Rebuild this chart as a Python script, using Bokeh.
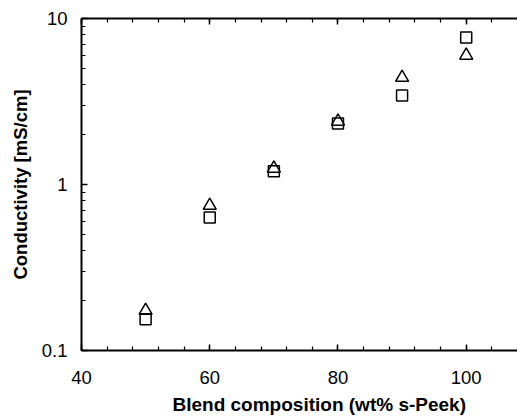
from bokeh.plotting import figure
from bokeh.models import LinearAxis, FixedTicker, SingleIntervalTicker, Range1d, Title
from bokeh.embed import file_html
from bokeh.resources import INLINE

# Data
composition = [50, 60, 70, 80, 90, 100]
cond_square = [0.154, 0.633, 1.20, 2.33, 3.44, 7.68]
cond_triangle = [0.174, 0.747, 1.25, 2.40, 4.41, 5.99]

y_major = [0.1, 1, 10]
y_minor = [0.2, 0.3, 0.4, 0.5, 0.6, 0.7, 0.8, 0.9, 2, 3, 4, 5, 6, 7, 8, 9]

x_title = "Blend composition (wt% s-Peek)"
y_title = "Conductivity [mS/cm]"

FONT = "Liberation Sans"

p = figure(width=517, height=419, output_backend="svg", toolbar_location=None,
           y_axis_type="log", x_range=Range1d(40, 108), y_range=Range1d(0.1, 10),
           min_border_left=81, min_border_top=18, min_border_bottom=69, min_border_right=0,
           y_axis_label=y_title)
p.outline_line_color = None
p.grid.visible = False
p.background_fill_color = "white"
p.border_fill_color = "white"

xt = SingleIntervalTicker(interval=20, num_minor_ticks=5)
yt = FixedTicker(ticks=y_major, minor_ticks=y_minor)
p.xaxis.ticker = xt
p.yaxis.ticker = yt

for ax in [p.xaxis[0], p.yaxis[0]]:
    ax.axis_line_width = 2
    ax.axis_line_color = "black"
    ax.major_tick_in = 6
    ax.major_tick_out = 0
    ax.minor_tick_in = 4
    ax.minor_tick_out = 0
    ax.major_tick_line_width = 1.5
    ax.minor_tick_line_width = 1.2
    ax.major_label_text_font = FONT
    ax.major_label_text_font_size = "18.5px"
    ax.major_label_text_color = "black"
    ax.axis_label_text_font = FONT
    ax.axis_label_text_font_size = "18.5px"
    ax.axis_label_text_font_style = "bold"
    ax.axis_label_text_color = "black"

p.xaxis.major_label_standoff = 20
p.yaxis.major_label_standoff = 14
p.yaxis.axis_label_standoff = 8
p.yaxis.major_label_overrides = {0.1: "0.1", 1: "1", 10: "10"}

top = LinearAxis(ticker=xt, major_label_text_font_size="0px", major_label_text_color=None,
                 axis_line_width=2, major_tick_in=6, major_tick_out=0,
                 minor_tick_in=4, minor_tick_out=0, major_tick_line_width=1.5,
                 minor_tick_line_width=1.2, major_label_standoff=0)
p.add_layout(top, "above")

xlab = Title(text=x_title, align="left", offset=91, text_font=FONT,
             text_font_size="19px", text_font_style="bold", text_color="black",
             standoff=10)
p.add_layout(xlab, "below")

p.scatter(composition, cond_square, marker="square", size=11, fill_color=None,
          line_color="black", line_width=1.5)
p.scatter(composition, cond_triangle, marker="triangle", size=13, fill_color=None,
          line_color="black", line_width=1.5)

open("out.html", "w").write(file_html(p, INLINE))
